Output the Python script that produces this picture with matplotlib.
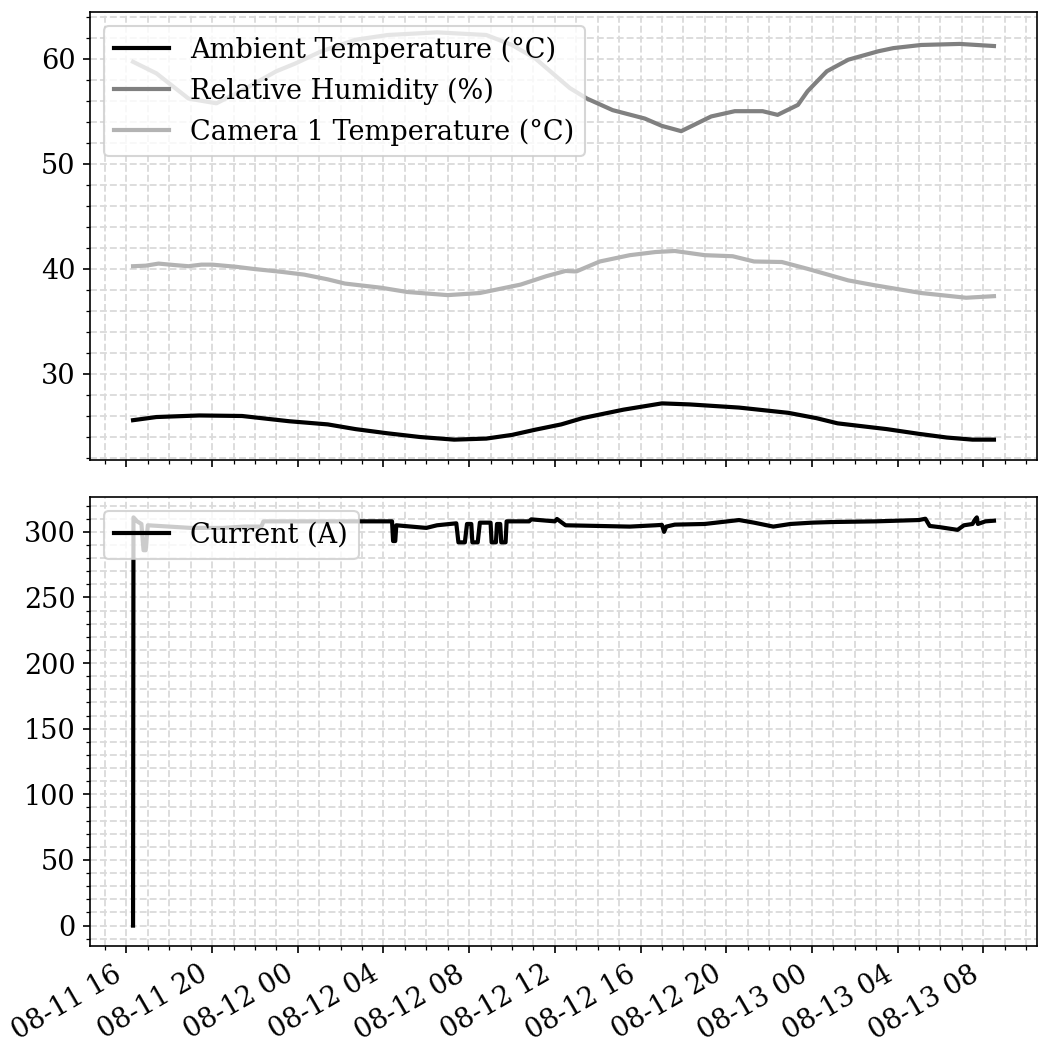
import numpy as np
import pandas as pd
import matplotlib
matplotlib.use('Agg')
import matplotlib.pyplot as plt
import matplotlib.dates as mdates
from matplotlib.ticker import AutoMinorLocator, MultipleLocator

plt.rcParams['font.family'] = 'DejaVu Serif'
plt.rcParams['font.size'] = 13

start = pd.Timestamp('2023-08-11 16:00')

# hours since 08-11 16:00 and readings
amb_h = [0.31, 1.4, 3.4, 5.4, 7.6, 9.4, 10.7, 12.2, 13.7, 15.3, 16.8, 18.0, 19.1, 20.3,
         21.3, 23.2, 25.0, 26.3, 28.6, 30.9, 32.2, 33.2, 35.5, 37.0, 38.3, 39.5, 40.5]
amb_t = [25.6, 25.9, 26.05, 26.0, 25.5, 25.2, 24.75, 24.35, 24.0, 23.75, 23.85, 24.2, 24.7, 25.2,
         25.8, 26.6, 27.2, 27.1, 26.8, 26.3, 25.8, 25.3, 24.75, 24.3, 23.95, 23.75, 23.75]

hum_h = [0.31, 1.4, 2.9, 4.2, 5.6, 7.0, 7.9, 9.1, 10.7, 12.2, 14.5, 16.8, 18.0, 19.1, 20.7,
         21.5, 22.7, 24.2, 25.0, 25.9, 27.3, 28.4, 29.7, 30.4, 31.35, 31.8, 32.7, 33.7, 35.1,
         35.8, 37.1, 38.9, 40.5]
hum_v = [59.7, 58.6, 56.2, 55.75, 57.2, 58.8, 59.55, 60.7, 61.8, 62.25, 62.5, 62.25, 61.3, 60.0, 57.2,
         56.2, 55.1, 54.3, 53.6, 53.1, 54.5, 55.0, 55.0, 54.65, 55.6, 56.9, 58.8, 59.9, 60.7,
         61.0, 61.3, 61.4, 61.2]

cam_h = [0.31, 0.9, 1.5, 2.3, 2.9, 3.5, 4.0, 5.1, 5.9, 7.3, 8.3, 9.4, 10.2, 11.9, 13.1, 15.0,
         16.5, 18.4, 19.6, 20.5, 21.0, 22.1, 23.5, 24.7, 25.6, 27.0, 28.3, 29.3, 30.6, 31.8,
         33.7, 34.9, 37.1, 39.2, 40.5]
cam_v = [40.25, 40.3, 40.5, 40.35, 40.25, 40.4, 40.4, 40.2, 40.0, 39.7, 39.45, 39.0, 38.6, 38.2, 37.8, 37.5,
         37.7, 38.5, 39.3, 39.8, 39.75, 40.7, 41.3, 41.6, 41.7, 41.3, 41.2, 40.7, 40.65, 40.0,
         38.9, 38.45, 37.7, 37.25, 37.4]

cur_h = [0.31, 0.33, 0.5, 0.7, 0.8, 0.9, 1.0, 2.0, 3.0, 4.5, 5.5, 6.3, 6.4, 8.0, 10.0, 12.4,
         12.45, 12.55, 12.6, 14.0, 14.5, 15.4, 15.5, 15.8, 15.9, 16.1, 16.15, 16.4, 16.5, 17.0,
         17.05, 17.25, 17.3, 17.45, 17.5, 17.7, 17.75, 18.8, 18.9, 20.0, 20.1, 20.5, 22.0, 23.5,
         24.7, 25.0, 25.1, 25.2, 25.6, 27.0, 28.6, 29.3, 30.2, 31.0, 32.0, 33.0, 35.0, 37.0,
         37.3, 37.5, 38.0, 38.8, 39.1, 39.5, 39.6, 39.7, 39.75, 40.1, 40.5]
cur_a = [0, 311, 308, 306, 286, 286, 305, 304, 303, 303, 304, 304, 308, 308, 308, 308,
         293, 293, 305, 303, 305, 306.5, 292, 292, 306, 306, 292, 292, 307, 307,
         292, 292, 306, 306, 292, 292, 308, 308, 309.5, 308, 309.8, 305, 304.5, 304,
         305, 305.3, 300, 304, 305.5, 306, 309, 307, 304, 306, 307, 307.5, 308, 309,
         310, 304.5, 303.5, 301.5, 305, 306, 309, 311, 306, 308, 308.5]


def to_time(hours):
    return start + pd.to_timedelta(np.array(hours), unit='h')


fig = plt.figure(figsize=(1040 / 150, 1045 / 150), dpi=150)
ax1 = fig.add_axes([90 / 1040, 1 - 460 / 1045, 947 / 1040, 448 / 1045])
ax2 = fig.add_axes([90 / 1040, 1 - 946 / 1045, 947 / 1040, 449 / 1045], sharex=ax1)

ax1.plot(to_time(amb_h), amb_t, color='black', lw=2, label='Ambient Temperature (°C)')
ax1.plot(to_time(hum_h), hum_v, color='0.5', lw=2, label='Relative Humidity (%)')
ax1.plot(to_time(cam_h), cam_v, color='0.7', lw=2, label='Camera 1 Temperature (°C)')
ax1.legend(loc='upper left')

ax2.plot(to_time(cur_h), cur_a, color='black', lw=2, label='Current (A)')
ax2.legend(loc='upper left')

for ax in (ax1, ax2):
    ax.yaxis.set_minor_locator(AutoMinorLocator(5))
    ax.grid(which='both', ls='--', color='0.86', lw=0.9)
    ax.set_axisbelow(True)

ax1.yaxis.set_major_locator(MultipleLocator(10))
ax2.yaxis.set_major_locator(MultipleLocator(50))
ax2.xaxis.set_major_locator(mdates.HourLocator(byhour=range(0, 24, 4)))
ax2.xaxis.set_minor_locator(mdates.HourLocator())
ax2.xaxis.set_major_formatter(mdates.DateFormatter('%m-%d %H'))
plt.setp(ax1.get_xticklabels(), visible=False)
plt.setp(ax2.get_xticklabels(), rotation=30, ha='right')

fig.savefig('out.png', dpi=150)
